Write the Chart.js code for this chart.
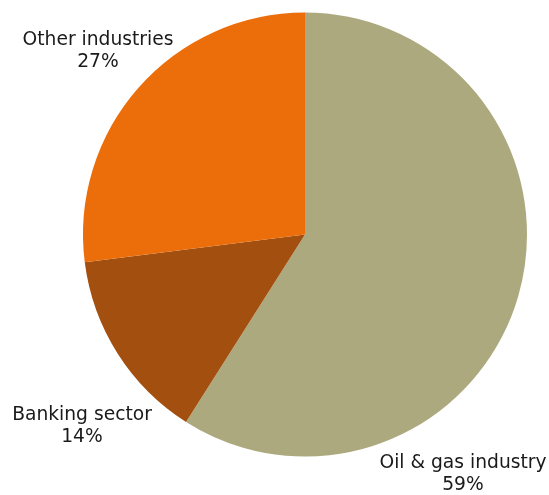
<!DOCTYPE html>
<html>
<head>
<meta charset="utf-8">
<script src="https://cdn.jsdelivr.net/npm/chart.js@4"></script>
<style>
  html, body { margin: 0; padding: 0; background: #fff; }
  #wrap { width: 549px; height: 495px; }
</style>
</head>
<body>
<div id="wrap"><canvas id="share"></canvas></div>
<script>
const sectors = ['Oil & gas industry', 'Banking sector', 'Other industries'];
const shares = [59, 14, 27];
const colors = ['#ada97f', '#a34f0f', '#ec6e0a'];
// where each caption sits (centre of the two text lines)
const captionAt = [[463, 474], [82, 426], [98, 51]];

const captions = {
    id: 'captions',
    afterDraw(chart) {
        const c = chart.ctx;
        c.save();
        c.font = '18.7px "DejaVu Sans"';
        c.fillStyle = '#1a1a1a';
        c.textAlign = 'center';
        c.textBaseline = 'middle';
        sectors.forEach((name, i) => {
            const [x, y] = captionAt[i];
            c.fillText(name, x, y - 11);
            c.fillText(shares[i] + '%', x, y + 11);
        });
        c.restore();
    }
};

new Chart(document.getElementById('share'), {
    type: 'pie',
    data: {
        labels: sectors,
        datasets: [{
            data: shares,
            backgroundColor: colors,
            borderWidth: 0
        }]
    },
    options: {
        responsive: true,
        maintainAspectRatio: false,
        animation: false,
        layout: {
            padding: { left: 83, right: 22, top: 12, bottom: 38 }
        },
        plugins: {
            legend: { display: false },
            tooltip: { enabled: false }
        }
    },
    plugins: [captions]
});
</script>
</body>
</html>
